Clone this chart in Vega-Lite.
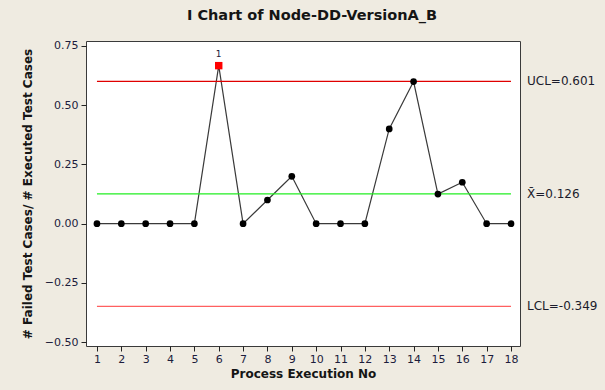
{
  "$schema": "https://vega.github.io/schema/vega-lite/v6.json",
  "width": 434,
  "height": 305,
  "autosize": {"type": "none"},
  "padding": {"left": 86, "top": 41, "right": 85, "bottom": 44},
  "background": "#EFEBE1",
  "title": {
    "text": "I Chart of Node-DD-VersionA_B",
    "font": "DejaVu Sans",
    "fontSize": 14.5,
    "fontWeight": "bold",
    "color": "#151515",
    "anchor": "middle",
    "offset": 16,
    "dx": 9
  },
  "config": {
    "view": {"stroke": "#3a3a3a", "strokeWidth": 1, "fill": "white"},
    "axis": {
      "labelFont": "DejaVu Sans",
      "labelFontSize": 11,
      "labelColor": "#1c1c3c",
      "titleFont": "DejaVu Sans",
      "titleFontSize": 12,
      "titleFontWeight": "bold",
      "titleColor": "#151515",
      "tickColor": "#222222",
      "tickSize": 5,
      "domain": false,
      "grid": false,
      "labelOverlap": false
    }
  },
  "datasets": {
    "points": [
      {"n": 1, "v": 0, "flag": false},
      {"n": 2, "v": 0, "flag": false},
      {"n": 3, "v": 0, "flag": false},
      {"n": 4, "v": 0, "flag": false},
      {"n": 5, "v": 0, "flag": false},
      {"n": 6, "v": 0.667, "flag": true},
      {"n": 7, "v": 0, "flag": false},
      {"n": 8, "v": 0.1, "flag": false},
      {"n": 9, "v": 0.2, "flag": false},
      {"n": 10, "v": 0, "flag": false},
      {"n": 11, "v": 0, "flag": false},
      {"n": 12, "v": 0, "flag": false},
      {"n": 13, "v": 0.4, "flag": false},
      {"n": 14, "v": 0.6, "flag": false},
      {"n": 15, "v": 0.125, "flag": false},
      {"n": 16, "v": 0.175, "flag": false},
      {"n": 17, "v": 0, "flag": false},
      {"n": 18, "v": 0, "flag": false}
    ],
    "limits": [
      {"name": "UCL", "limit": 0.601, "start": 1, "end": 18, "label": "UCL=0.601"},
      {"name": "Mean", "limit": 0.126, "start": 1, "end": 18, "label": "X\u0304=0.126"},
      {"name": "LCL", "limit": -0.349, "start": 1, "end": 18, "label": "LCL=-0.349"}
    ]
  },
  "layer": [
    {
      "data": {"name": "points"},
      "mark": {"type": "line", "color": "#3a3a3a", "strokeWidth": 1.2},
      "encoding": {
        "x": {
          "field": "n",
          "type": "quantitative",
          "scale": {"domain": [0.55, 18.37], "nice": false, "zero": false},
          "axis": {"values": [1,2,3,4,5,6,7,8,9,10,11,12,13,14,15,16,17,18], "format": "d", "labelAngle": 0, "labelPadding": 2, "titlePadding": 4, "title": "Process Execution No"}
        },
        "y": {
          "field": "v",
          "type": "quantitative",
          "scale": {"domain": [-0.516, 0.771], "nice": false, "zero": false},
          "axis": {"values": [-0.5, -0.25, 0, 0.25, 0.5, 0.75], "format": ".2f", "labelPadding": 3, "titlePadding": 10, "title": "# Failed Test Cases/ # Executed Test Cases"}
        }
      }
    },
    {
      "data": {"name": "limits"},
      "mark": {"type": "rule", "strokeWidth": 1.3},
      "encoding": {
        "x": {"field": "start", "type": "quantitative",
          "axis": {"values": [1,2,3,4,5,6,7,8,9,10,11,12,13,14,15,16,17,18], "format": "d", "labelAngle": 0, "labelPadding": 2, "titlePadding": 4, "title": "Process Execution No"}},
        "x2": {"field": "end"},
        "y": {"field": "limit", "type": "quantitative",
          "axis": {"values": [-0.5, -0.25, 0, 0.25, 0.5, 0.75], "format": ".2f", "labelPadding": 3, "titlePadding": 10, "title": "# Failed Test Cases/ # Executed Test Cases"}},
        "color": {
          "field": "name",
          "type": "nominal",
          "scale": {"domain": ["UCL", "Mean", "LCL"], "range": ["#E00000", "#22EE22", "#FF6060"]},
          "legend": null
        }
      }
    },
    {
      "data": {"name": "limits"},
      "mark": {"type": "text", "align": "left", "baseline": "middle", "dx": 7, "font": "DejaVu Sans", "fontSize": 12, "color": "#1c1c2c", "clip": false},
      "encoding": {
        "x": {"datum": 18.37, "type": "quantitative",
          "axis": {"values": [1,2,3,4,5,6,7,8,9,10,11,12,13,14,15,16,17,18], "format": "d", "labelAngle": 0, "labelPadding": 2, "titlePadding": 4, "title": "Process Execution No"}},
        "y": {"field": "limit", "type": "quantitative",
          "axis": {"values": [-0.5, -0.25, 0, 0.25, 0.5, 0.75], "format": ".2f", "labelPadding": 3, "titlePadding": 10, "title": "# Failed Test Cases/ # Executed Test Cases"}},
        "text": {"field": "label"}
      }
    },
    {
      "data": {"name": "points"},
      "mark": {"type": "point", "filled": true, "opacity": 1},
      "encoding": {
        "x": {"field": "n", "type": "quantitative",
          "axis": {"values": [1,2,3,4,5,6,7,8,9,10,11,12,13,14,15,16,17,18], "format": "d", "labelAngle": 0, "labelPadding": 2, "titlePadding": 4, "title": "Process Execution No"}},
        "y": {"field": "v", "type": "quantitative",
          "axis": {"values": [-0.5, -0.25, 0, 0.25, 0.5, 0.75], "format": ".2f", "labelPadding": 3, "titlePadding": 10, "title": "# Failed Test Cases/ # Executed Test Cases"}},
        "shape": {"condition": {"test": "datum.flag", "value": "square"}, "value": "circle"},
        "color": {"condition": {"test": "datum.flag", "value": "#FF0000"}, "value": "#000000"},
        "size": {"condition": {"test": "datum.flag", "value": 55}, "value": 45}
      }
    },
    {
      "data": {"name": "points"},
      "transform": [{"filter": "datum.flag"}],
      "mark": {"type": "text", "dy": -12, "font": "DejaVu Sans", "fontSize": 9, "color": "#1c1c3c"},
      "encoding": {
        "x": {"field": "n", "type": "quantitative",
          "axis": {"values": [1,2,3,4,5,6,7,8,9,10,11,12,13,14,15,16,17,18], "format": "d", "labelAngle": 0, "labelPadding": 2, "titlePadding": 4, "title": "Process Execution No"}},
        "y": {"field": "v", "type": "quantitative",
          "axis": {"values": [-0.5, -0.25, 0, 0.25, 0.5, 0.75], "format": ".2f", "labelPadding": 3, "titlePadding": 10, "title": "# Failed Test Cases/ # Executed Test Cases"}},
        "text": {"value": "1"}
      }
    }
  ]
}
